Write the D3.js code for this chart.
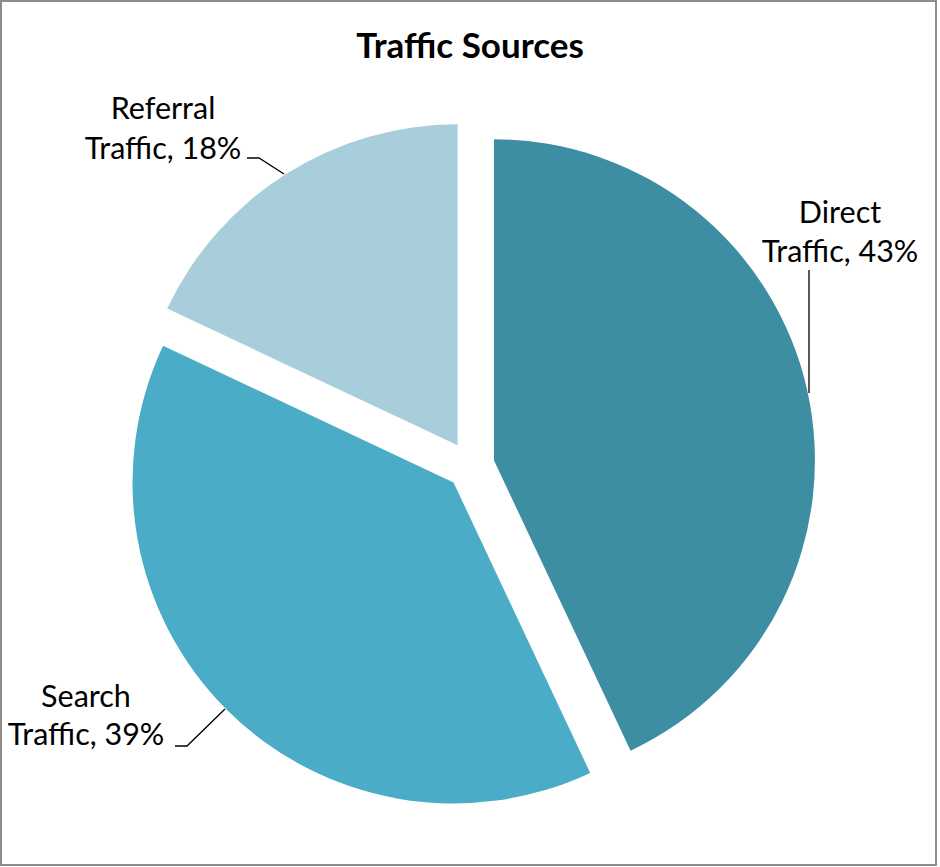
<!DOCTYPE html>
<html>
<head>
<meta charset="utf-8">
<script src="https://cdn.jsdelivr.net/npm/d3@7"></script>
<style>
  html, body { margin: 0; padding: 0; background: #fff; }
  svg { display: block; }
  text { font-family: Lato, "Open Sans", sans-serif; fill: #000; }
</style>
</head>
<body>
<svg id="chart" width="940" height="867"></svg>
<script>
const title = "Traffic Sources";
const categories = ["Direct Traffic", "Search Traffic", "Referral Traffic"];
const labelLine1 = ["Direct", "Search", "Referral"];
const labelLine2 = ["Traffic, 43%", "Traffic, 39%", "Traffic, 18%"];
const values = [43, 39, 18];
const colors = ["#3d8da3", "#4aacc6", "#a9cedb"];

const W = 940, H = 867;
const svg = d3.select("#chart");

svg.append("rect")
  .attr("x", 1).attr("y", 1).attr("width", 935).attr("height", 864)
  .attr("fill", "#fff").attr("stroke", "#8c8c8c").attr("stroke-width", 2);

svg.append("text")
  .attr("x", 470).attr("y", 58)
  .attr("text-anchor", "middle")
  .style("font-weight", "bold").style("font-size", "35px")
  .text(title);

const cx = 470.5, cy = 465.5, R = 321, explode = 24;
const pie = d3.pie().sort(null).value(d => d)(values);
const arc = d3.arc().innerRadius(0).outerRadius(R);

const g = svg.append("g").attr("transform", `translate(${cx},${cy})`);
g.selectAll("path").data(pie).join("path")
  .attr("d", arc)
  .attr("fill", (d, i) => colors[i])
  .attr("transform", d => {
    const a = (d.startAngle + d.endAngle) / 2;
    return `translate(${explode * Math.sin(a)},${-explode * Math.cos(a)})`;
  });

// Labels (placed around the pie as in the reference)
const labelPos = [
  { x: 840, y1: 223, y2: 262, line: [[809, 270], [809, 393]] },
  { x: 86, y1: 707, y2: 745, line: [[175, 746], [187, 746], [225, 709]] },
  { x: 163, y1: 119, y2: 159, line: [[247, 158], [259, 158], [284, 174]] }
];
const fs = "30.5px";
labelPos.forEach((p, i) => {
  svg.append("text").attr("x", p.x).attr("y", p.y1).attr("text-anchor", "middle")
    .style("font-size", fs).text(labelLine1[i]);
  svg.append("text").attr("x", p.x).attr("y", p.y2).attr("text-anchor", "middle")
    .style("font-size", fs).text(labelLine2[i]);
  svg.append("path").attr("d", d3.line()(p.line))
    .attr("fill", "none").attr("stroke", "#000").attr("stroke-width", 1.3);
});
</script>
</body>
</html>
